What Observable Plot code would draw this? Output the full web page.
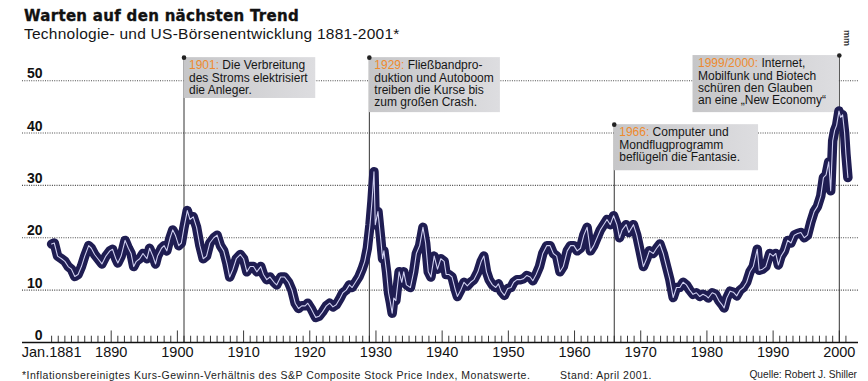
<!DOCTYPE html>
<html><head><meta charset="utf-8">
<script src="https://cdn.jsdelivr.net/npm/d3@7"></script>
<script src="https://cdn.jsdelivr.net/npm/@observablehq/plot@0.6"></script>
<style>
html,body{margin:0;padding:0;background:#fff;}
#wrap{position:relative;width:868px;height:381px;overflow:hidden;font-family:"Liberation Sans",Arial,sans-serif;}
#wrap svg{position:absolute;left:0;top:0;}
.t{position:absolute;white-space:nowrap;color:#151515;line-height:1;}
#title{left:24px;top:10px;line-height:0.9;font-family:"DejaVu Sans",sans-serif;font-weight:bold;font-size:15px;letter-spacing:0.3px;color:#111;-webkit-text-stroke:0.35px #111;}
#subtitle{left:24px;top:27.4px;line-height:0.9;font-size:15.5px;letter-spacing:0.25px;}
.foot{top:369.5px;font-size:10.5px;letter-spacing:0.5px;color:#222;}
#mm{left:851px;top:30px;font-size:9px;font-weight:bold;transform:rotate(90deg);transform-origin:left top;color:#333;}
</style></head><body>
<div id="wrap">
<div class="t" id="title">Warten auf den nächsten Trend</div>
<div class="t" id="subtitle">Technologie- und US-Börsenentwicklung 1881-2001*</div>
<div class="t foot" style="left:22px">*Inflationsbereinigtes Kurs-Gewinn-Verhältnis des S&amp;P Composite Stock Price Index, Monatswerte.</div>
<div class="t foot" style="left:560px">Stand: April 2001.</div>
<div class="t foot" style="right:11px;font-size:10.2px;letter-spacing:0">Quelle: Robert J. Shiller</div>
<div class="t" id="mm">mm</div>
</div>
<script>
// Kurs-Gewinn-Verhältnis (year, value)
const peSeries = [
[1881.0,18.8],[1881.4,19.0],[1881.9,16.5],[1882.5,16.0],[1883.0,15.5],[1883.5,14.5],[1884.0,14.0],[1884.5,12.6],[1885.0,13.0],[1885.5,14.5],
[1886.0,16.5],[1886.6,18.5],[1887.0,18.0],[1887.5,16.8],[1888.0,16.0],[1888.6,15.0],[1889.2,16.5],[1889.8,17.5],[1890.2,17.8],[1890.7,16.0],
[1891.0,15.2],[1891.5,16.5],[1892.1,19.5],[1892.6,18.0],[1893.0,17.0],[1893.4,14.5],[1893.8,15.5],[1894.3,16.0],[1894.8,17.0],[1895.4,16.0],
[1895.8,18.0],[1896.3,16.5],[1896.7,15.0],[1897.0,16.5],[1897.6,18.0],[1898.0,18.5],[1898.4,17.5],[1898.9,20.0],[1899.3,21.5],[1899.7,20.5],
[1900.2,18.5],[1900.6,19.0],[1901.0,22.0],[1901.5,25.2],[1901.9,23.5],[1902.4,24.0],[1902.9,22.0],[1903.4,18.5],[1903.9,16.0],[1904.4,16.5],
[1904.9,19.0],[1905.5,20.0],[1906.0,20.5],[1906.5,18.5],[1907.0,17.5],[1907.5,15.0],[1907.9,12.5],[1908.4,14.0],[1908.9,16.0],[1909.5,16.8],
[1910.0,16.0],[1910.5,13.5],[1911.0,14.5],[1911.5,14.5],[1912.0,13.5],[1912.6,14.5],[1913.0,13.0],[1913.5,12.0],[1914.0,12.5],[1914.6,11.5],
[1915.0,11.0],[1915.6,12.5],[1916.2,12.5],[1916.8,11.5],[1917.3,10.0],[1917.8,7.5],[1918.3,6.5],[1918.8,7.0],[1919.3,7.0],[1919.7,7.5],
[1920.2,6.5],[1920.6,5.5],[1920.9,4.8],[1921.4,5.0],[1921.9,5.8],[1922.5,7.0],[1923.0,7.5],[1923.5,6.8],[1924.0,7.2],[1924.6,8.5],
[1925.0,9.5],[1925.5,10.0],[1926.0,11.0],[1926.4,10.5],[1926.9,11.5],[1927.4,12.5],[1927.9,14.0],[1928.3,15.5],[1928.7,18.0],[1929.1,22.5],
[1929.4,27.0],[1929.7,32.6],[1929.9,22.5],[1930.3,25.0],[1930.7,20.0],[1931.0,16.0],[1931.2,17.5],[1931.6,13.5],[1931.9,9.5],[1932.2,7.5],
[1932.45,5.6],[1932.7,8.5],[1933.0,8.0],[1933.5,13.5],[1933.9,11.5],[1934.2,13.5],[1934.6,11.0],[1935.2,10.5],[1935.7,13.5],[1936.1,17.0],
[1936.6,18.5],[1937.1,22.0],[1937.5,19.0],[1937.9,13.5],[1938.3,12.5],[1938.8,16.5],[1939.3,14.0],[1939.8,16.0],[1940.3,15.5],[1940.6,13.0],
[1941.0,13.0],[1941.5,12.5],[1942.0,10.0],[1942.3,8.8],[1942.8,10.0],[1943.3,11.5],[1943.8,10.8],[1944.3,11.5],[1944.8,12.0],[1945.4,13.5],
[1945.9,15.5],[1946.3,16.5],[1946.7,13.5],[1947.1,12.0],[1947.6,11.0],[1948.1,10.5],[1948.5,11.2],[1948.9,9.8],[1949.4,9.0],[1949.9,10.3],
[1950.4,10.5],[1950.8,11.5],[1951.3,12.0],[1951.8,12.0],[1952.3,12.2],[1952.8,12.8],[1953.3,12.5],[1953.7,11.8],[1954.2,13.0],[1954.7,14.5],
[1955.2,17.0],[1955.8,18.5],[1956.3,18.5],[1956.8,17.0],[1957.3,16.5],[1957.8,13.5],[1958.3,14.5],[1958.9,17.5],[1959.4,18.5],[1959.9,18.5],
[1960.4,17.5],[1960.9,18.0],[1961.4,20.5],[1961.9,22.0],[1962.4,17.5],[1962.9,18.5],[1963.4,20.0],[1963.9,21.5],[1964.4,22.5],[1964.9,23.5],
[1965.4,22.5],[1965.9,24.2],[1966.4,22.5],[1966.8,20.0],[1967.2,21.5],[1967.8,22.5],[1968.2,21.0],[1968.9,22.5],[1969.4,20.5],[1969.9,17.5],
[1970.4,14.5],[1970.9,16.0],[1971.3,17.5],[1971.9,17.0],[1972.4,18.0],[1972.9,18.8],[1973.4,17.0],[1973.9,14.5],[1974.4,12.0],[1974.9,8.6],
[1975.4,10.5],[1975.9,10.5],[1976.4,11.5],[1976.9,11.0],[1977.4,10.0],[1977.9,9.2],[1978.4,9.5],[1978.9,8.8],[1979.4,9.2],[1979.9,8.9],
[1980.2,8.5],[1980.8,9.5],[1981.3,9.2],[1981.8,8.0],[1982.3,7.2],[1982.6,6.6],[1983.0,8.5],[1983.5,9.8],[1984.0,9.6],[1984.5,8.9],
[1985.0,10.0],[1985.5,10.5],[1986.0,11.5],[1986.5,13.5],[1987.0,14.5],[1987.6,17.8],[1987.9,13.8],[1988.4,14.0],[1988.9,14.5],[1989.5,17.0],
[1990.0,16.5],[1990.4,17.0],[1990.8,14.8],[1991.2,16.5],[1991.7,17.5],[1992.2,19.5],[1992.7,19.0],[1993.2,20.5],[1993.7,20.8],[1994.2,21.0],
[1994.7,20.0],[1995.2,20.5],[1995.7,23.0],[1996.2,25.0],[1996.7,26.0],[1997.2,28.0],[1997.6,31.5],[1998.0,32.0],[1998.4,34.5],[1998.7,29.0],
[1999.0,38.5],[1999.3,40.5],[1999.6,41.5],[1999.95,44.2],[2000.2,43.0],[2000.5,43.5],[2000.8,40.0],[2001.0,36.0],[2001.3,31.5]
];
const gridValues = [10, 20, 30, 40, 50];
const yLabelValues = [0, 10, 20, 30, 40, 50];
const xLabelYears = [1881, 1890, 1900, 1910, 1920, 1930, 1940, 1950, 1960, 1970, 1980, 1990, 2000];
const xLabelTexts = ["Jan.1881", "1890", "1900", "1910", "1920", "1930", "1940", "1950", "1960", "1970", "1980", "1990", "2000"];
const tickYears = d3.range(1881, 2002);

const eventYears = [1901, 1929, 1966, 2000];
const eventTags = ["1901:", "1929:", "1966:", "1999/2000:"];
const eventNotes = [
  "Die Verbreitung\ndes Stroms elektrisiert\ndie Anleger.",
  "Fließbandpro-\nduktion und Autoboom\ntreiben die Kurse bis\nzum großen Crash.",
  "Computer und\nMondflugprogramm\nbeflügeln die Fantasie.",
  "Internet,\nMobilfunk und Biotech\nschüren den Glauben\nan eine „New Economy“"
];
// annotation box layout (in axis units)
const boxX1 = [1901, 1929, 1966, 1977.9];
const boxX2 = [1920.9, 1948.8, 1987.8, 2000];
const boxTop = [54.4, 54.4, 41.6, 54.8];
const boxBottom = [46.6, 43.9, 32.8, 43.9];

const series = peSeries.map(([year, pe]) => ({year, pe}));
const events = eventYears.map((year, i) => ({
  year, tag: eventTags[i], text: eventTags[i] + " " + eventNotes[i],
  x1: boxX1[i], x2: boxX2[i], top: boxTop[i], bottom: boxBottom[i]
}));
const xLabels = xLabelYears.map((year, i) => ({year, label: xLabelTexts[i]}));

const font = "Liberation Sans, Arial, sans-serif";
const svg = Plot.plot({
  width: 868, height: 381,
  marginLeft: 22, marginRight: 10, marginTop: 54, marginBottom: 39,
  x: {domain: [1876.6, 2002.9], axis: null},
  y: {domain: [0, 55], axis: null},
  style: {fontFamily: font, background: "transparent"},
  marks: [
    Plot.ruleY(gridValues, {stroke: "#4a4a4a", strokeWidth: 1.1, strokeDasharray: "1,1.3"}),
    Plot.text(yLabelValues, {y: d => d, text: d => String(d), frameAnchor: "left", dx: 20, textAnchor: "end", lineAnchor: "bottom", dy: -2.5, fontWeight: "bold", fontSize: 14, fill: "#111", fontFamily: font}),
    Plot.ruleX(events, {x: "year", y1: 0, y2: "top", stroke: "#333", strokeWidth: 1}),
    Plot.rectY(events, {x1: "x1", x2: "x2", y1: "bottom", y2: "top", fill: "#d0d0d2"}),
    Plot.text(events, {x: "x1", y: "top", text: "text", textAnchor: "start", lineAnchor: "top", dx: 5, dy: 3, fontSize: 12, lineHeight: 1.03, fill: "#161616", fontFamily: font}),
    Plot.dot(events, {x: "year", y: "top", r: 2.3, fill: "#222"}),
    Plot.line(series, {x: "year", y: "pe", stroke: "#1f1d52", strokeWidth: 9.5, strokeLinejoin: "round", strokeLinecap: "round"}),
    Plot.line(series, {x: "year", y: "pe", stroke: "#cfcff0", strokeWidth: 1.1, strokeLinejoin: "round"}),
    Plot.ruleY([0], {stroke: "#111", strokeWidth: 1.5}),
    Plot.ruleX(tickYears, {x: d => d, y1: 0, y2: d => d % 10 === 0 ? 2.2 : 1.2, stroke: "#222", strokeWidth: 0.9}),
    Plot.text(xLabels, {x: "year", text: "label", frameAnchor: "bottom", lineAnchor: "top", dy: 4, fontSize: 14.5, fill: "#111", fontFamily: font})
  ]
});

// gradient for annotation boxes
const defs = d3.select(svg).insert("defs", ":first-child");
const grad = defs.append("linearGradient").attr("id", "boxg").attr("x1", 0).attr("x2", 1).attr("y1", 0).attr("y2", 0);
grad.append("stop").attr("offset", "0%").attr("stop-color", "#c6c6c8");
grad.append("stop").attr("offset", "100%").attr("stop-color", "#dddde0");
d3.select(svg).selectAll('g[aria-label="rect"]').attr("fill", "url(#boxg)");

// colour the year prefix of each annotation orange
d3.select(svg).selectAll("tspan").each(function() {
  const s = this.textContent;
  const tag = eventTags.find(t => s.startsWith(t));
  if (tag) {
    const rest = s.slice(tag.length);
    const el = d3.select(this);
    el.text("");
    el.append("tspan").attr("fill", "#ee8a2e").text(tag);
    el.append("tspan").text(rest);
  }
});
document.getElementById("wrap").prepend(svg);
</script>
</body></html>
